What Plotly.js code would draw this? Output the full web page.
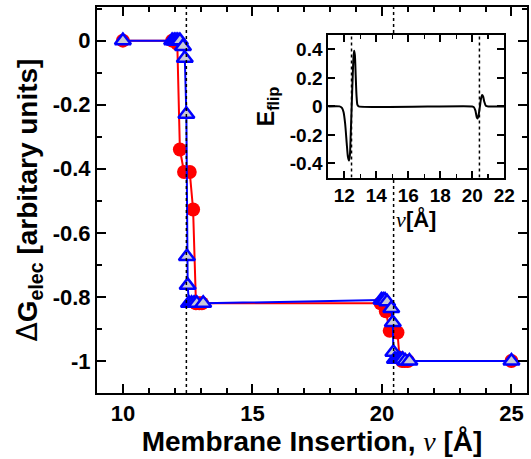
<!DOCTYPE html>
<html>
<head>
<meta charset="utf-8">
<script src="https://cdn.plot.ly/plotly-3.0.1.min.js"></script>
<style>html,body{margin:0;padding:0;background:#fff;}#chart{width:531px;height:459px;}</style>
</head>
<body>
<div id="chart"></div>
<script>
// Red circles series (Delta G_elec vs insertion)
const redX = [10, 11.9, 12.0, 12.05, 12.1, 12.2, 12.36, 12.58, 12.71, 12.82, 12.95, 13.05, 19.95, 20.05, 20.15, 20.3, 20.6, 20.68, 20.78, 20.88, 21.0, 25];
const redY = [0, 0, 0, -0.003, -0.01, -0.34, -0.41, -0.41, -0.527, -0.82, -0.82, -0.82, -0.82, -0.82, -0.845, -0.906, -0.911, -0.99, -1, -1, -1, -1];
// Blue triangles series
const blueX = [10, 11.9, 11.98, 12.05, 12.12, 12.2, 12.32, 12.39, 12.45, 12.47, 12.5, 12.55, 12.65, 12.75, 12.85, 13.1, 19.98, 20.05, 20.12, 20.2, 20.36, 20.42, 20.44, 20.5, 20.6, 20.7, 20.8, 20.9, 21.06, 25];
const blueY = [0, 0, 0, 0, 0, 0, -0.018, -0.055, -0.23, -0.674, -0.764, -0.82, -0.82, -0.82, -0.82, -0.82, -0.81, -0.81, -0.81, -0.815, -0.836, -0.88, -0.973, -0.995, -0.995, -0.995, -0.995, -1, -1, -1];
// Flip positions (dotted reference lines)
const flipX = [12.45, 20.45];
// Inset: E_flip curve
const flipCurveX = [11, 11.7, 11.85, 11.95, 12.05, 12.15, 12.22, 12.29, 12.35, 12.40, 12.46, 12.52, 12.57, 12.61, 12.66, 12.71, 12.76, 12.82, 12.9, 20.0, 20.1, 20.2, 20.28, 20.33, 20.4, 20.48, 20.55, 20.62, 20.68, 20.75, 20.85, 21.0, 22];
const flipCurveY = [0, 0, -0.01, -0.04, -0.12, -0.26, -0.35, -0.38, -0.34, -0.2, 0.0, 0.2, 0.34, 0.39, 0.36, 0.22, 0.08, 0.01, 0, 0, -0.005, -0.03, -0.075, -0.085, -0.06, 0.0, 0.055, 0.08, 0.07, 0.035, 0.005, 0, 0];
// Tick labels
const mainXTicks = [10, 15, 20, 25];
const mainYTicks = [0, -0.2, -0.4, -0.6, -0.8, -1];
const mainYTickText = ['0', '-0.2', '-0.4', '-0.6', '-0.8', '-1'];
const insetXTicks = [12, 14, 16, 18, 20, 22];
const insetYTicks = [0.4, 0.2, 0, -0.2, -0.4];
const insetYTickText = ['0.4', '0.2', '0', '-0.2', '-0.4'];

const FONT = 'Liberation Sans, Arial, sans-serif';
const NU = '<span style="font-family:Liberation Serif, serif;font-style:italic;font-weight:normal">ν</span>';

const traces = [
  {x: redX, y: redY, xaxis: 'x', yaxis: 'y', mode: 'lines+markers',
   line: {color: '#ff0000', width: 2},
   marker: {symbol: 'circle', size: 14, color: '#ff0000'}, showlegend: false},
  {x: blueX, y: blueY, xaxis: 'x', yaxis: 'y', mode: 'lines+markers',
   line: {color: '#0000ff', width: 2},
   marker: {symbol: 'triangle-up', size: 14, color: '#c9c9d6', line: {color: '#0000ff', width: 2.5}}, showlegend: false}
];
flipX.forEach(v => {
  traces.push({x: [v, v], y: [-1.1, 0.105], xaxis: 'x', yaxis: 'y', mode: 'lines',
    line: {color: '#000', width: 1.5, dash: 'dot'}, showlegend: false, hoverinfo: 'skip'});
});
traces.push({x: flipCurveX, y: flipCurveY, xaxis: 'x2', yaxis: 'y2', mode: 'lines',
  line: {color: '#000', width: 2, shape: 'spline', smoothing: 0.6}, showlegend: false});
flipX.forEach(v => {
  traces.push({x: [v, v], y: [-0.5, 0.5], xaxis: 'x2', yaxis: 'y2', mode: 'lines',
    line: {color: '#000', width: 1.5, dash: 'dot'}, showlegend: false, hoverinfo: 'skip'});
});

const axisCommon = {showline: true, linewidth: 2, linecolor: '#000', mirror: 'allticks',
  ticks: 'inside', tickwidth: 2, tickcolor: '#000', showgrid: false, zeroline: false};

const layout = {
  width: 531, height: 459,
  margin: {l: 97, r: 4, t: 7, b: 66},
  paper_bgcolor: '#fff', plot_bgcolor: '#fff',
  font: {family: FONT, color: '#000'},
  xaxis: Object.assign({}, axisCommon, {
    domain: [0, 1], range: [9, 25.6], tickvals: mainXTicks, ticklen: 9,
    minor: {dtick: 1, tick0: 0, ticks: 'inside', ticklen: 5, tickwidth: 2, tickcolor: '#000', showgrid: false},
    tickfont: {size: 22, weight: 700, family: FONT},
    title: {text: 'Membrane Insertion, ' + NU + ' [Å]', font: {size: 28, weight: 700, family: FONT}, standoff: 5},
    anchor: 'y'
  }),
  yaxis: Object.assign({}, axisCommon, {
    domain: [0, 1], range: [-1.1, 0.105], tickvals: mainYTicks, ticktext: mainYTickText, ticklen: 9,
    minor: {dtick: 0.1, tick0: 0, ticks: 'inside', ticklen: 5, tickwidth: 2, tickcolor: '#000', showgrid: false},
    tickfont: {size: 22, weight: 700, family: FONT},
    title: {text: '<span style="font-weight:normal;font-family:DejaVu Sans">Δ</span>G<sub>elec</sub> [arbitary units]', font: {size: 28, weight: 700, family: FONT}, standoff: 7},
    anchor: 'x'
  }),
  xaxis2: Object.assign({}, axisCommon, {
    domain: [0.538, 0.947], range: [11, 22], tickvals: insetXTicks, ticklen: 7,
    minor: {dtick: 1, tick0: 0, ticks: 'inside', ticklen: 4, tickwidth: 1.5, tickcolor: '#000', showgrid: false},
    tickfont: {size: 19, weight: 700, family: FONT},
    title: {text: NU + '[Å]', font: {size: 22, weight: 700, family: FONT}, standoff: 4},
    anchor: 'y2'
  }),
  yaxis2: Object.assign({}, axisCommon, {
    domain: [0.558, 0.927], range: [-0.5, 0.5], tickvals: insetYTicks, ticktext: insetYTickText, ticklen: 7,
    tickfont: {size: 19, weight: 700, family: FONT},
    title: {text: 'E<sub>flip</sub>', font: {size: 23, weight: 700, family: FONT}, standoff: 9},
    anchor: 'x2'
  })
};

Plotly.newPlot('chart', traces, layout, {staticPlot: true, displayModeBar: false});
</script>
</body>
</html>
